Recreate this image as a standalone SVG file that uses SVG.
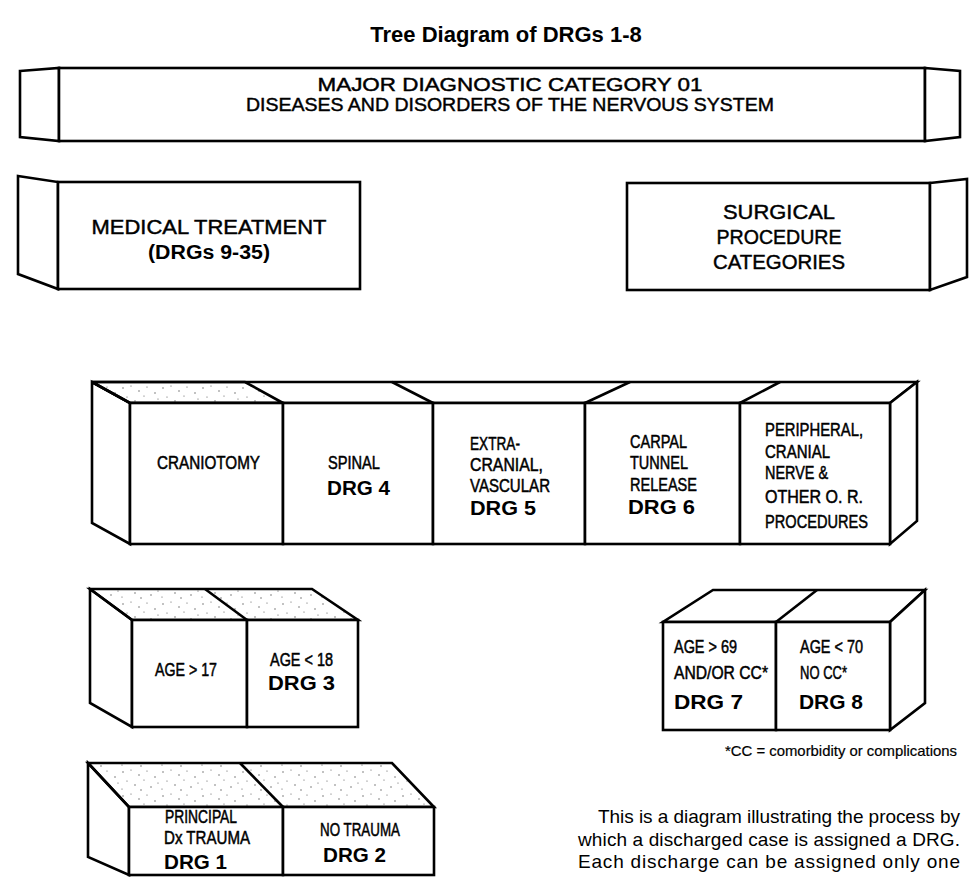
<svg xmlns="http://www.w3.org/2000/svg" width="972" height="881" viewBox="0 0 972 881">
<defs>
<pattern id="stip" width="40" height="24" patternUnits="userSpaceOnUse">
<g fill="#555">
<circle cx="3" cy="4" r="0.7"/><circle cx="11" cy="2" r="0.6"/><circle cx="19" cy="7" r="0.7"/><circle cx="27" cy="3" r="0.6"/>
<circle cx="35" cy="9" r="0.7"/><circle cx="7" cy="13" r="0.6"/><circle cx="15" cy="17" r="0.7"/><circle cx="24" cy="12" r="0.6"/>
<circle cx="31" cy="19" r="0.7"/><circle cx="38" cy="15" r="0.6"/><circle cx="2" cy="21" r="0.6"/><circle cx="21" cy="22" r="0.7"/>
</g>
</pattern>
<style>
.f{fill:#fff;stroke:#000;stroke-width:2.6;stroke-linejoin:miter}
.s{fill:url(#stip);stroke:#000;stroke-width:2.6;stroke-linejoin:miter}
.ln{fill:none;stroke:#000;stroke-width:2.6}
text{font-family:"Liberation Sans",Arial,Helvetica,sans-serif;fill:#000}
.title{font-size:22px;font-weight:bold}
.hd{font-size:19px;stroke:#000;stroke-width:0.45}
.big{font-size:21px;stroke:#000;stroke-width:0.45}
.c{font-size:18px;stroke:#000;stroke-width:0.5}
.b{font-size:20px;font-weight:bold}
.p{font-size:19px}
.fn{font-size:15px;stroke:#000;stroke-width:0.2}
</style>
</defs>
<rect width="972" height="881" fill="#fff"/>

<g id="title">
<text class="title" x="506" y="42" text-anchor="middle">Tree Diagram of DRGs 1-8</text>
</g>

<g id="mdc01">
<polygon class="f" points="20,71 59,68 59,141 20,137"/>
<rect class="f" x="59" y="68" width="866" height="73"/>
<polygon class="f" points="925,68 960,71 960,137 925,141"/>
<text class="hd" x="510" y="91" text-anchor="middle" textLength="385" lengthAdjust="spacingAndGlyphs">MAJOR DIAGNOSTIC CATEGORY 01</text>
<text class="hd" x="510" y="111" text-anchor="middle" textLength="528" lengthAdjust="spacingAndGlyphs">DISEASES AND DISORDERS OF THE NERVOUS SYSTEM</text>
</g>

<g id="medical">
<polygon class="f" points="18,176 58,182 58,289 18,274"/>
<rect class="f" x="58" y="182" width="302" height="107"/>
<text class="big" x="209" y="234" text-anchor="middle" textLength="235" lengthAdjust="spacingAndGlyphs">MEDICAL TREATMENT</text>
<text class="b" x="209" y="259" text-anchor="middle" textLength="122" lengthAdjust="spacingAndGlyphs">(DRGs 9-35)</text>
</g>

<g id="surgical">
<rect class="f" x="627" y="183" width="303" height="107"/>
<polygon class="f" points="930,183 967,179 967,277 930,290"/>
<text class="big" x="779" y="219" text-anchor="middle" textLength="112" lengthAdjust="spacingAndGlyphs">SURGICAL</text>
<text class="big" x="779" y="244" text-anchor="middle" textLength="125" lengthAdjust="spacingAndGlyphs">PROCEDURE</text>
<text class="big" x="779" y="269" text-anchor="middle" textLength="132" lengthAdjust="spacingAndGlyphs">CATEGORIES</text>
</g>

<g id="procedure-block">
<polygon class="f" points="92,382 130,403 130,544 92,523"/>
<polygon class="f" points="92,382 917,382 890,403 130,403"/>
<polygon class="s" points="92,382 245,382 283,403 130,403"/>
<line class="ln" x1="392" y1="382" x2="433" y2="403"/>
<line class="ln" x1="630" y1="382" x2="585" y2="403"/>
<line class="ln" x1="780" y1="382" x2="740" y2="403"/>
<polygon class="f" points="890,403 917,382 917,521 890,544"/>
</g>

<g id="craniotomy">
<rect class="f" x="130" y="403" width="153" height="141"/>
<text class="c" x="157" y="469" textLength="103" lengthAdjust="spacingAndGlyphs">CRANIOTOMY</text>
</g>
<g id="drg4">
<rect class="f" x="283" y="403" width="150" height="141"/>
<text class="c" x="328" y="469" textLength="52" lengthAdjust="spacingAndGlyphs">SPINAL</text>
<text class="b" x="327" y="495" textLength="63" lengthAdjust="spacingAndGlyphs">DRG 4</text>
</g>
<g id="drg5">
<rect class="f" x="433" y="403" width="152" height="141"/>
<text class="c" x="470" y="450" textLength="50" lengthAdjust="spacingAndGlyphs">EXTRA-</text>
<text class="c" x="470" y="471" textLength="73" lengthAdjust="spacingAndGlyphs">CRANIAL,</text>
<text class="c" x="470" y="492" textLength="80" lengthAdjust="spacingAndGlyphs">VASCULAR</text>
<text class="b" x="470" y="515" textLength="66" lengthAdjust="spacingAndGlyphs">DRG 5</text>
</g>
<g id="drg6">
<rect class="f" x="585" y="403" width="155" height="141"/>
<text class="c" x="630" y="448" textLength="57" lengthAdjust="spacingAndGlyphs">CARPAL</text>
<text class="c" x="630" y="469" textLength="58" lengthAdjust="spacingAndGlyphs">TUNNEL</text>
<text class="c" x="630" y="491" textLength="67" lengthAdjust="spacingAndGlyphs">RELEASE</text>
<text class="b" x="628" y="514" textLength="67" lengthAdjust="spacingAndGlyphs">DRG 6</text>
</g>
<g id="peripheral">
<rect class="f" x="740" y="403" width="150" height="141"/>
<text class="c" x="765" y="436" textLength="98" lengthAdjust="spacingAndGlyphs">PERIPHERAL,</text>
<text class="c" x="765" y="458" textLength="65" lengthAdjust="spacingAndGlyphs">CRANIAL</text>
<text class="c" x="765" y="479" textLength="63" lengthAdjust="spacingAndGlyphs">NERVE &amp;</text>
<text class="c" x="765" y="503" textLength="98" lengthAdjust="spacingAndGlyphs">OTHER O. R.</text>
<text class="c" x="765" y="528" textLength="103" lengthAdjust="spacingAndGlyphs">PROCEDURES</text>
</g>

<g id="age-block">
<polygon class="f" points="90,589 132,620 132,727 90,703"/>
<polygon class="s" points="90,589 312,589 358,620 132,620"/>
<line class="ln" x1="205" y1="589" x2="247" y2="620"/>
</g>
<g id="age17">
<rect class="f" x="132" y="620" width="115" height="107"/>
<text class="c" x="155" y="676" textLength="62" lengthAdjust="spacingAndGlyphs">AGE &gt; 17</text>
</g>
<g id="drg3">
<rect class="f" x="247" y="620" width="111" height="107"/>
<text class="c" x="270" y="666" textLength="63" lengthAdjust="spacingAndGlyphs">AGE &lt; 18</text>
<text class="b" x="268" y="690" textLength="67" lengthAdjust="spacingAndGlyphs">DRG 3</text>
</g>

<g id="cc-block">
<polygon class="f" points="713,590 925,590 890,622 663,622"/>
<line class="ln" x1="817" y1="590" x2="776" y2="622"/>
<polygon class="f" points="890,622 925,590 925,703 890,730"/>
</g>
<g id="drg7">
<rect class="f" x="663" y="622" width="113" height="108"/>
<text class="c" x="674" y="653" textLength="63" lengthAdjust="spacingAndGlyphs">AGE &gt; 69</text>
<text class="c" x="674" y="679" textLength="94" lengthAdjust="spacingAndGlyphs">AND/OR CC*</text>
<text class="b" x="674" y="709" textLength="69" lengthAdjust="spacingAndGlyphs">DRG 7</text>
</g>
<g id="drg8">
<rect class="f" x="776" y="622" width="114" height="108"/>
<text class="c" x="800" y="653" textLength="63" lengthAdjust="spacingAndGlyphs">AGE &lt; 70</text>
<text class="c" x="800" y="679" textLength="47" lengthAdjust="spacingAndGlyphs">NO CC*</text>
<text class="b" x="799" y="709" textLength="64" lengthAdjust="spacingAndGlyphs">DRG 8</text>
</g>
<g id="footnote">
<text class="fn" x="725" y="756" textLength="232" lengthAdjust="spacingAndGlyphs">*CC = comorbidity or complications</text>
</g>

<g id="trauma-block">
<polygon class="f" points="88,763 129,807 129,875 88,857"/>
<polygon class="s" points="88,763 392,763 434,807 129,807"/>
<line class="ln" x1="240" y1="763" x2="283" y2="807"/>
</g>
<g id="drg1">
<rect class="f" x="129" y="807" width="154" height="68"/>
<text class="c" x="165" y="823" textLength="72" lengthAdjust="spacingAndGlyphs">PRINCIPAL</text>
<text class="c" x="164" y="844" textLength="86" lengthAdjust="spacingAndGlyphs">Dx TRAUMA</text>
<text class="b" x="164" y="869" textLength="63" lengthAdjust="spacingAndGlyphs">DRG 1</text>
</g>
<g id="drg2">
<rect class="f" x="283" y="807" width="151" height="68"/>
<text class="c" x="320" y="836" textLength="80" lengthAdjust="spacingAndGlyphs">NO TRAUMA</text>
<text class="b" x="323" y="862" textLength="63" lengthAdjust="spacingAndGlyphs">DRG 2</text>
</g>

<g id="paragraph">
<text class="p" x="598" y="823" textLength="362" lengthAdjust="spacing">This is a diagram illustrating the process by</text>
<text class="p" x="578" y="846" textLength="382" lengthAdjust="spacing">which a discharged case is assigned a DRG.</text>
<text class="p" x="578" y="868" textLength="382" lengthAdjust="spacing">Each discharge can be assigned only one</text>
</g>

<g id="connectors"/>
</svg>
